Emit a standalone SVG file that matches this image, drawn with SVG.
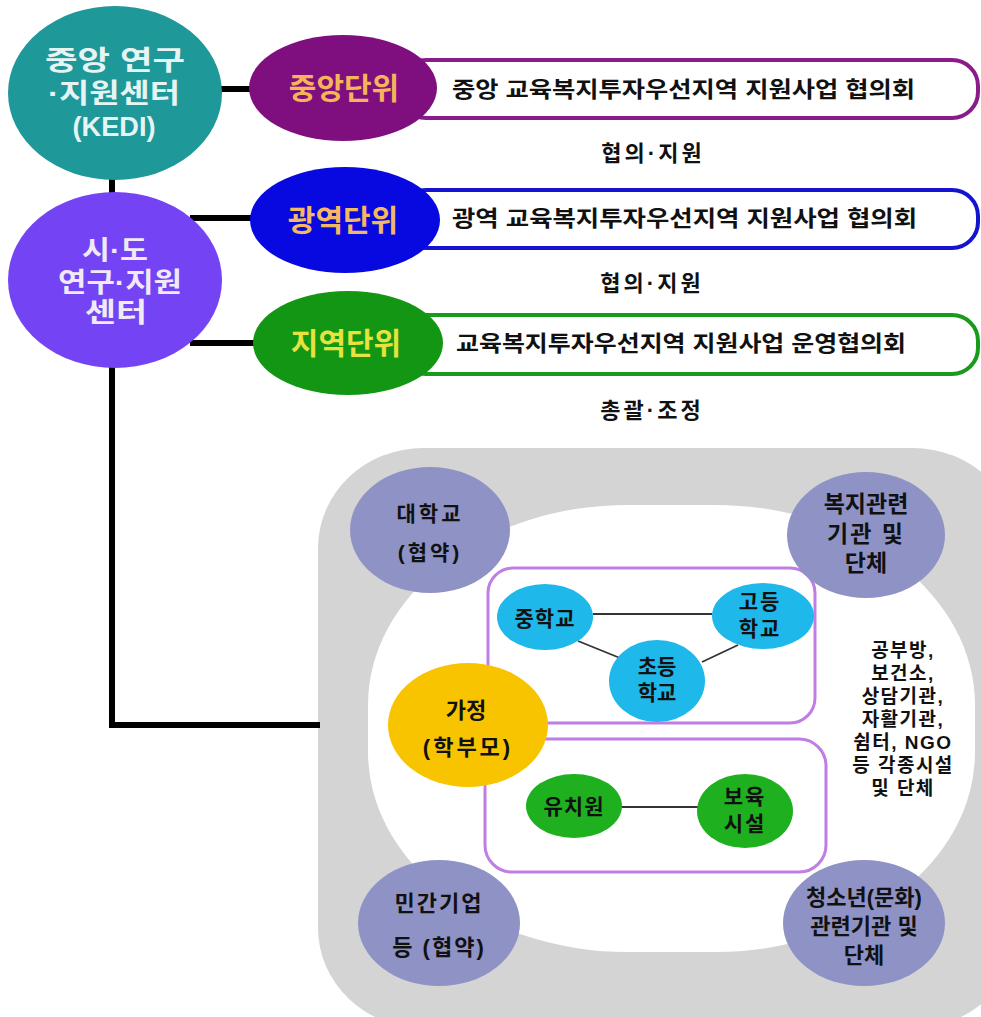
<svg xmlns="http://www.w3.org/2000/svg" width="981" height="1017" viewBox="0 0 981 1017">
<style>
text{font-family:"Liberation Sans","Noto Sans CJK KR",sans-serif;font-weight:bold}
.big{font-size:27px;text-anchor:middle}
.unit{font-size:30px;text-anchor:middle}
.cap{font-size:22px;fill:#111}
.mid{font-size:22px;fill:#111;text-anchor:middle;letter-spacing:3px}
.sm{font-size:21px;fill:#111;text-anchor:middle}
.rt{font-size:19px;fill:#111;text-anchor:middle;letter-spacing:1.5px}
.conn{stroke:#000;stroke-width:6;fill:none}
.thin{stroke:#333;stroke-width:1.8;fill:none}
.gb{fill:#8E92C4}
</style>
<rect width="981" height="1017" fill="#fff"/>

<g id="bg-gray">
<rect x="318" y="448" width="700" height="580" rx="105" ry="100" fill="#D4D4D4"/>
<rect x="368" y="505" width="607" height="447" rx="260" ry="200" fill="#fff"/>
</g>

<g id="connectors">
<line class="conn" x1="112" y1="175" x2="112" y2="198"/>
<line class="conn" x1="210" y1="89" x2="255" y2="89"/>
<line class="conn" x1="190" y1="218" x2="255" y2="218"/>
<line class="conn" x1="190" y1="343" x2="258" y2="343"/>
<polyline class="conn" points="112,362 112,725 320,725"/>
<line class="thin" x1="593" y1="614" x2="712" y2="614"/>
<line class="thin" x1="578" y1="641" x2="620" y2="658"/>
<line class="thin" x1="702" y1="662" x2="738" y2="645"/>
<line class="thin" x1="620" y1="807" x2="698" y2="807"/>
</g>

<g id="capsule-central">
<rect x="400" y="60" width="578" height="58" rx="26" fill="#fff" stroke="#8B1A8B" stroke-width="4"/>
<text class="cap" x="452" y="97" textLength="463" lengthAdjust="spacingAndGlyphs">중앙 교육복지투자우선지역 지원사업 협의회</text>
</g>
<g id="capsule-metro">
<rect x="400" y="190" width="578" height="58" rx="26" fill="#fff" stroke="#1414D0" stroke-width="4"/>
<text class="cap" x="452" y="226" textLength="465" lengthAdjust="spacingAndGlyphs">광역 교육복지투자우선지역 지원사업 협의회</text>
</g>
<g id="capsule-local">
<rect x="400" y="315" width="578" height="59" rx="26" fill="#fff" stroke="#1A9A1A" stroke-width="4"/>
<text class="cap" x="456" y="351" textLength="450" lengthAdjust="spacingAndGlyphs">교육복지투자우선지역 지원사업 운영협의회</text>
</g>

<g id="label-1"><text class="mid" x="653" y="161">협의·지원</text></g>
<g id="label-2"><text class="mid" x="652" y="291">협의·지원</text></g>
<g id="label-3"><text class="mid" x="652" y="418">총괄·조정</text></g>

<g id="kedi">
<ellipse cx="115" cy="93" rx="107" ry="87" fill="#1E9898"/>
<text class="big" x="115" y="70" fill="#E6F4F4" textLength="140" lengthAdjust="spacingAndGlyphs">중앙 연구</text>
<text class="big" x="114" y="103" fill="#E6F4F4" textLength="132" lengthAdjust="spacingAndGlyphs">·지원센터</text>
<text class="big" x="114" y="136" fill="#E6F4F4" textLength="83" lengthAdjust="spacingAndGlyphs">(KEDI)</text>
</g>

<g id="sido">
<ellipse cx="115" cy="280" rx="107" ry="88" fill="#7444F4"/>
<text class="big" x="115" y="260" fill="#F0EAF6" textLength="66" lengthAdjust="spacingAndGlyphs">시·도</text>
<text class="big" x="120" y="292" fill="#F0EAF6" textLength="124" lengthAdjust="spacingAndGlyphs">연구·지원</text>
<text class="big" x="116" y="322" fill="#F0EAF6" textLength="62" lengthAdjust="spacingAndGlyphs">센터</text>
</g>

<g id="unit-central">
<ellipse cx="343" cy="88" rx="94" ry="53" fill="#7F0F7F"/>
<text class="unit" x="344" y="99" fill="#F5B45A">중앙단위</text>
</g>
<g id="unit-metro">
<ellipse cx="345" cy="220" rx="95" ry="53" fill="#0808E0"/>
<text class="unit" x="343" y="231" fill="#F2B862">광역단위</text>
</g>
<g id="unit-local">
<ellipse cx="348" cy="343" rx="95" ry="52" fill="#139613"/>
<text class="unit" x="346" y="354" fill="#E6E23E">지역단위</text>
</g>

<g id="box-school">
<rect x="488" y="568" width="327" height="155" rx="25" fill="none" stroke="#C07EE4" stroke-width="3"/>
</g>
<g id="box-preschool">
<rect x="485" y="739" width="341" height="133" rx="27" fill="none" stroke="#C07EE4" stroke-width="3"/>
</g>

<g id="univ">
<ellipse class="gb" cx="430" cy="530" rx="80" ry="63"/>
<text class="sm" x="430" y="521" letter-spacing="3">대학교</text>
<text class="sm" x="430" y="560" letter-spacing="3">(협약)</text>
</g>
<g id="welfare">
<ellipse class="gb" cx="866" cy="535" rx="79" ry="63"/>
<text class="sm" x="866" y="512" style="font-size:23px">복지관련</text>
<text class="sm" x="866" y="542" style="font-size:23px" letter-spacing="2">기관 및</text>
<text class="sm" x="866" y="571" style="font-size:23px">단체</text>
</g>
<g id="company">
<ellipse class="gb" cx="439" cy="923" rx="81" ry="63"/>
<text class="sm" x="439" y="911" style="font-size:22px" letter-spacing="2">민간기업</text>
<text class="sm" x="439" y="955" style="font-size:22px" letter-spacing="2">등 (협약)</text>
</g>
<g id="youth">
<ellipse class="gb" cx="864" cy="923" rx="81" ry="63"/>
<text class="sm" x="864" y="905" style="font-size:22px">청소년(문화)</text>
<text class="sm" x="864" y="934" style="font-size:22px">관련기관 및</text>
<text class="sm" x="864" y="963" style="font-size:22px">단체</text>
</g>

<g id="middle-school">
<ellipse cx="545" cy="617" rx="48" ry="33" fill="#1EB8EA"/>
<text class="sm" x="545" y="626" letter-spacing="1">중학교</text>
</g>
<g id="high-school">
<ellipse cx="763" cy="616" rx="51" ry="33" fill="#1EB8EA"/>
<text class="sm" x="760" y="609" letter-spacing="2">고등</text>
<text class="sm" x="760" y="636" letter-spacing="2">학교</text>
</g>
<g id="elem-school">
<ellipse cx="657" cy="681" rx="48" ry="41" fill="#1EB8EA"/>
<text class="sm" x="657" y="674">초등</text>
<text class="sm" x="657" y="700">학교</text>
</g>

<g id="family">
<ellipse cx="468" cy="725" rx="80" ry="62" fill="#F8C400"/>
<text class="sm" x="466" y="718" style="font-size:22px">가정</text>
<text class="sm" x="468" y="755" style="font-size:22px" letter-spacing="3">(학부모)</text>
</g>

<g id="kindergarten">
<ellipse cx="574" cy="806" rx="48" ry="32" fill="#1EB01E"/>
<text class="sm" x="574" y="814" letter-spacing="1">유치원</text>
</g>
<g id="daycare">
<ellipse cx="745" cy="811" rx="48" ry="37" fill="#1EB01E"/>
<text class="sm" x="745" y="804" letter-spacing="2">보육</text>
<text class="sm" x="745" y="831" letter-spacing="2">시설</text>
</g>

<g id="other-facilities">
<text class="rt" x="903" y="657">공부방,</text>
<text class="rt" x="903" y="680">보건소,</text>
<text class="rt" x="903" y="703">상담기관,</text>
<text class="rt" x="903" y="726">자활기관,</text>
<text class="rt" x="903" y="749">쉼터, NGO</text>
<text class="rt" x="903" y="772">등 각종시설</text>
<text class="rt" x="903" y="795">및 단체</text>
</g>
</svg>
